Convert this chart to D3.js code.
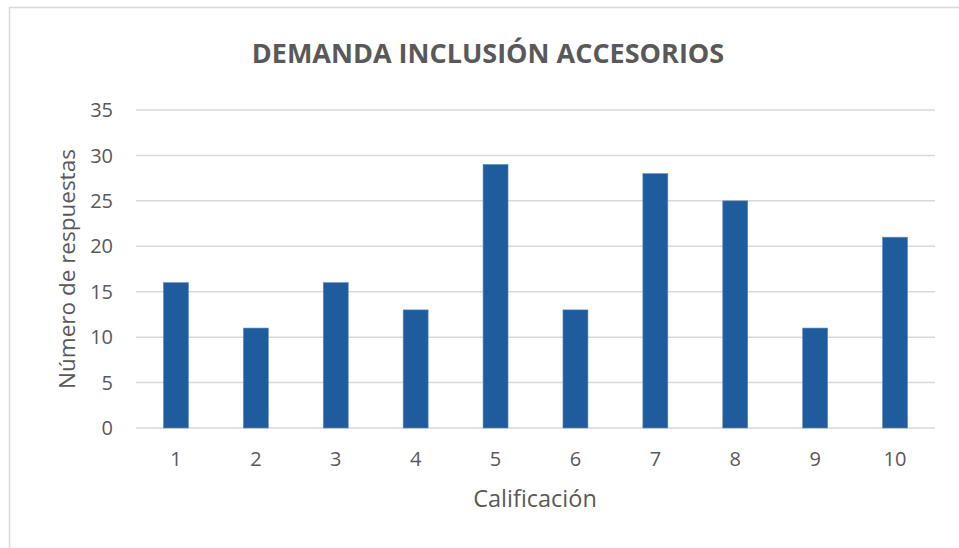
<script src='https://d3js.org/d3.v7.min.js'></script>
<style>
  body {margin:0; background:#fff;}
  text {font-family:'Open Sans',sans-serif; fill:#595959;}
</style>
<svg id='chart'></svg>
<script>
const categories=['1','2','3','4','5','6','7','8','9','10'];
const respuestas=[16,11,16,13,29,13,28,25,11,21];
const yTicks=[0,5,10,15,20,25,30,35];
const W=959,H=548;
var margin={top:110,right:24,bottom:120,left:136},
    width=935-margin.left,
    height=428-margin.top;
var svg=d3.select('#chart').attr('width',W).attr('height',H);
// chart frame
svg.append('rect').attr('x',9.5).attr('y',7.5)
   .attr('width',W).attr('height',H)
   .attr('fill','#fff').attr('stroke','#d9d9d9').attr('stroke-width',1.5);
var g=svg.append('g').attr('transform','translate('+margin.left+','+margin.top+')');
var x=d3.scaleBand().domain(categories).range([0,width])
        .paddingInner(0.6875).paddingOuter(0.34375);
var y=d3.scaleLinear().domain([0,35]).range([height,0]);
// gridlines
g.selectAll('.grid').data(yTicks).enter().append('line')
 .attr('x1',0).attr('x2',width)
 .attr('y1',d=>y(d)).attr('y2',d=>y(d))
 .attr('stroke','#d9d9d9').attr('stroke-width',1.5);
// y labels
g.selectAll('.ylab').data(yTicks).enter().append('text')
 .attr('x',-23).attr('y',d=>y(d)).attr('dy','0.36em')
 .attr('text-anchor','end').style('font-size','20px').text(d=>d);
// bars
g.selectAll('.bar').data(respuestas).enter().append('rect')
 .attr('x',(d,i)=>x(categories[i])).attr('width',x.bandwidth())
 .attr('y',d=>y(d)).attr('height',d=>height-y(d))
 .attr('fill','#1f5c9e').attr('stroke','#5b8cc4').attr('stroke-width',0.6);
// x labels
g.selectAll('.xlab').data(categories).enter().append('text')
 .attr('x',d=>x(d)+x.bandwidth()/2).attr('y',height+38)
 .attr('text-anchor','middle').style('font-size','20px').text(d=>d);
// axis titles
svg.append('text').attr('x',535).attr('y',507).attr('text-anchor','middle')
   .style('font-size','23.5px').text('Calificación');
svg.append('text').attr('transform','translate(75,269) rotate(-90)')
   .attr('text-anchor','middle').style('font-size','22.5px').text('Número de respuestas');
// title
svg.append('text').attr('x',488).attr('y',63).attr('text-anchor','middle')
   .style('font-size','27px').style('font-weight','bold')
   .text('DEMANDA INCLUSIÓN ACCESORIOS');
</script>
